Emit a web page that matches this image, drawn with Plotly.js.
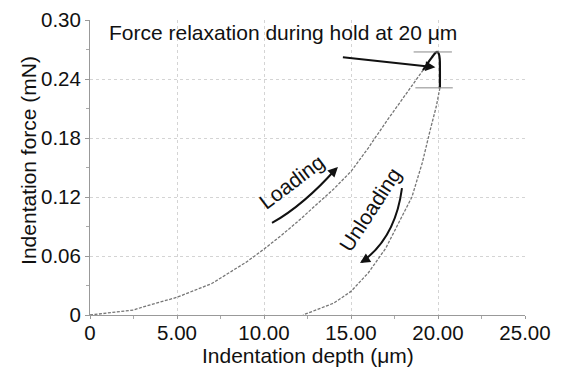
<!DOCTYPE html>
<html><head><meta charset="utf-8">
<script src="https://cdn.plot.ly/plotly-3.0.1.min.js"></script>
<style>html,body{margin:0;padding:0;background:#fff}#c{width:568px;height:369px}</style>
</head><body><div id="c"></div>
<script>
// Loading branch (depth µm, force mN)
const loadX = [0, 1, 2, 2.5, 3, 4, 5, 6, 7, 8, 9, 10, 11, 12, 13, 14, 15, 16, 17, 18, 18.6, 19.14];
const loadY = [0, 0.002, 0.004, 0.005, 0.008, 0.013, 0.018, 0.025, 0.032, 0.043, 0.054, 0.067, 0.081, 0.096, 0.112, 0.128, 0.146, 0.170, 0.196, 0.221, 0.236, 0.249];
// Hold segment (force relaxation)
const holdX = [19.14, 19.4, 19.65, 19.85, 19.95, 20.05, 20.1, 20.11, 20.11];
const holdY = [0.249, 0.256, 0.262, 0.2665, 0.2675, 0.2655, 0.260, 0.250, 0.231];
// Unloading branch
const unloadX = [20.11, 19.9, 19.55, 19.1, 18.5, 17.8, 17.0, 16.0, 15.0, 14.0, 13.0, 12.24];
const unloadY = [0.231, 0.212, 0.188, 0.155, 0.120, 0.095, 0.068, 0.043, 0.024, 0.012, 0.005, 0];
// Ticks
const xTicks = [0, 5, 10, 15, 20, 25];
const xTickText = ['0', '5.00', '10.00', '15.00', '20.00', '25.00'];
const yTicks = [0, 0.06, 0.12, 0.18, 0.24, 0.30];
const yTickText = ['0', '0.06', '0.12', '0.18', '0.24', '0.30'];
// Reference levels (peak force and force after hold)
const peakForce = 0.2675;
const holdEndForce = 0.231;

const F = 'Liberation Sans, Arial, sans-serif';
const FS = 21;
const TFS = 20.5;
const dataLine = {color: '#767676', width: 1.3, dash: '3px,1.5px'};

const traces = [
  {x: loadX, y: loadY, mode: 'lines', line: dataLine, hoverinfo: 'skip'},
  {x: unloadX, y: unloadY, mode: 'lines', line: dataLine, hoverinfo: 'skip'},
  {x: holdX, y: holdY, mode: 'lines', line: {color: '#111', width: 2.2, shape: 'spline'}, hoverinfo: 'skip'}
];

const layout = {
  width: 568, height: 369,
  margin: {l: 90, r: 43, t: 20, b: 54},
  paper_bgcolor: '#fff', plot_bgcolor: '#fff',
  showlegend: false,
  font: {family: F, size: FS, color: '#111'},
  xaxis: {
    range: [0, 25], tickvals: xTicks, ticktext: xTickText,
    showline: true, linecolor: '#999', linewidth: 1,
    showgrid: true, gridcolor: '#d4d4d4', griddash: 'dot', gridwidth: 1,
    zeroline: false, ticks: 'outside', ticklen: 3, tickcolor: '#999',
    minor: {dtick: 2.5, ticks: 'outside', ticklen: 3, tickcolor: '#aaa', showgrid: false},
    tickfont: {size: TFS, family: F, color: '#111'}, ticklabelstandoff: -4
  },
  yaxis: {
    range: [0, 0.30], tickvals: yTicks, ticktext: yTickText,
    showline: true, linecolor: '#999', linewidth: 1,
    showgrid: true, gridcolor: '#d4d4d4', griddash: 'dot', gridwidth: 1,
    zeroline: false, ticks: 'outside', ticklen: 4, tickcolor: '#999',
    minor: {dtick: 0.03, ticks: 'outside', ticklen: 3, tickcolor: '#aaa', showgrid: false},
    tickfont: {size: TFS, family: F, color: '#111'}
  },
  shapes: [
    {type: 'line', xref: 'x', yref: 'y', x0: 18.6, x1: 20.8, y0: peakForce, y1: peakForce, line: {color: '#888', width: 1}},
    {type: 'line', xref: 'x', yref: 'y', x0: 18.7, x1: 20.85, y0: holdEndForce, y1: holdEndForce, line: {color: '#888', width: 1}},
    // curved "Loading" arrow
    {type: 'path', xref: 'x', yref: 'y', path: 'M 10.46 0.0936 Q 12.3 0.112 14.15 0.149', line: {color: '#111', width: 2}},
    // curved "Unloading" arrow
    {type: 'path', xref: 'x', yref: 'y', path: 'M 17.93 0.129 Q 17.55 0.078 15.62 0.054', line: {color: '#111', width: 2}}
  ],
  annotations: [
    {xref: 'paper', yref: 'paper', x: -0.143, y: 0.525, xanchor: 'center', yanchor: 'middle', textangle: -90, showarrow: false,
     text: 'Indentation force (mN)', font: {size: FS, family: F, color: '#111'}},
    {xref: 'paper', yref: 'paper', x: 0.5, y: -0.137, xanchor: 'center', yanchor: 'middle', showarrow: false,
     text: 'Indentation depth (μm)', font: {size: FS, family: F, color: '#111'}},
    {xref: 'x', yref: 'y', x: 0.95, y: 0.2868, xanchor: 'left', yanchor: 'middle', showarrow: false,
     text: 'Force relaxation during hold at 20 μm', font: {size: FS, family: F, color: '#111'}},
    {xref: 'x', yref: 'y', x: 19.85, y: 0.252, ax: -94, ay: -10, showarrow: true, arrowhead: 2, arrowsize: 1, arrowwidth: 2, arrowcolor: '#111', text: ''},
    {xref: 'x', yref: 'y', x: 11.6, y: 0.136, textangle: -37, showarrow: false, text: 'Loading', font: {size: FS, family: F, color: '#111'}},
    {xref: 'x', yref: 'y', x: 14.25, y: 0.1505, ax: -7, ay: 7, showarrow: true, arrowhead: 2, arrowsize: 1, arrowwidth: 2, arrowcolor: '#111', text: ''},
    {xref: 'x', yref: 'y', x: 16.1, y: 0.107, textangle: -57, showarrow: false, text: 'Unloading', font: {size: FS, family: F, color: '#111'}},
    {xref: 'x', yref: 'y', x: 15.52, y: 0.0529, ax: 8, ay: -5, showarrow: true, arrowhead: 2, arrowsize: 1, arrowwidth: 2, arrowcolor: '#111', text: ''}
  ]
};

Plotly.newPlot('c', traces, layout, {displayModeBar: false, staticPlot: true});
</script>
</body></html>
